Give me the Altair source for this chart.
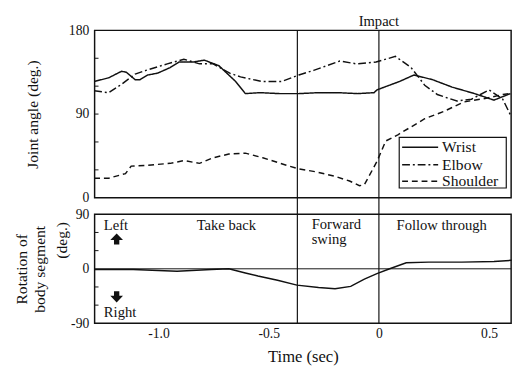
import altair as alt
import pandas as pd

# ---------------- data ----------------
joints = ["Wrist", "Elbow", "Shoulder"]

wrist_t = [-1.292, -1.226, -1.168, -1.146, -1.106, -1.084, -1.049, -1.004, -0.947, -0.907,
           -0.841, -0.792, -0.726, -0.650, -0.606, -0.540, -0.451, -0.363, -0.274, -0.186,
           -0.097, -0.022, -0.009, 0.093, 0.159, 0.243, 0.332, 0.434, 0.522, 0.597]
wrist_v = [125, 129, 136, 135, 127, 127, 132, 134, 140, 146,
           146, 148, 142, 125, 112, 113, 112, 112, 113, 113,
           112, 113, 116, 125, 132, 127, 119, 112, 105, 112]

elbow_t = [-1.292, -1.226, -1.168, -1.106, -1.057, -0.960, -0.885, -0.814, -0.752, -0.677,
           -0.628, -0.531, -0.442, -0.363, -0.296, -0.177, -0.102, -0.013, 0.075, 0.146,
           0.208, 0.265, 0.354, 0.420, 0.500, 0.562, 0.597]
elbow_v = [115, 113, 122, 133, 137, 144, 149, 144, 144, 134,
           130, 125, 125, 132, 137, 147, 144, 146, 152, 140,
           121, 111, 104, 106, 116, 106, 89]

shoulder_t = [-1.292, -1.226, -1.150, -1.124, -1.049, -0.947, -0.885, -0.814, -0.752, -0.681,
              -0.606, -0.527, -0.420, -0.363, -0.288, -0.199, -0.133, -0.088, -0.066, -0.009,
              0.031, 0.088, 0.208, 0.296, 0.385, 0.487, 0.562, 0.597]
shoulder_v = [21, 21, 26, 34, 35, 37, 40, 37, 43, 47,
              48, 43, 35, 31, 28, 23, 18, 13, 14, 39,
              61, 68, 85, 93, 103, 107, 111, 112]

rot_t = [-1.292, -1.115, -0.916, -0.761, -0.681, -0.606, -0.549, -0.460, -0.372, -0.274,
         -0.199, -0.128, -0.066, -0.009, 0.049, 0.124, 0.226, 0.376, 0.522, 0.602]
rot_v = [-1, -1, -4, -1, 0, -7, -12, -19, -27, -31,
         -33, -29, -17, -8, 0, 10, 11, 11, 12, 14]

phase_t = [-0.37, 0.0]

ang_tick_vals = [30, 60, 90, 120, 150]
rot_tick_vals = [-60, -30, 30, 60]

ann_labels = ["Left", "Right", "Take back", "Forward", "swing", "Follow through"]
ann_t = [-1.248, -1.248, -0.827, -0.305, -0.305, 0.080]
ann_v = [72, -72, 72, 74, 49, 72]

arrow_dir = ["up", "down"]
arrow_t = [-1.19, -1.19]
arrow_v = [48, -45]

# ---------------- styling ----------------
FONT = "Liberation Serif"
INK = "#111111"
W, H1, H2, GAP = 428, 172, 112, 17
dashes = [[1, 0], [8, 3, 2, 3], [6, 4]]
xscale = alt.Scale(domain=[-1.29, 0.60], nice=False, zero=False)

angle_df = pd.concat([
    pd.DataFrame({"t": wrist_t, "v": wrist_v, "joint": "Wrist"}),
    pd.DataFrame({"t": elbow_t, "v": elbow_v, "joint": "Elbow"}),
    pd.DataFrame({"t": shoulder_t, "v": shoulder_v, "joint": "Shoulder"}),
])
phase_df = pd.DataFrame({"t": phase_t})
one = pd.DataFrame({"a": [0]})

# ---------------- top panel ----------------
y_top = alt.Y("v:Q", scale=alt.Scale(domain=[0, 180], nice=False),
              axis=alt.Axis(values=[0, 90, 180], title="Joint angle (deg.)",
                            titlePadding=29, labelPadding=6, tickSize=0))
x_top = alt.X("t:Q", scale=xscale, axis=alt.Axis(labels=False, title=None, tickSize=0))

lines = alt.Chart(angle_df).mark_line(color=INK, strokeWidth=1.5).encode(
    x=x_top, y=y_top,
    strokeDash=alt.StrokeDash("joint:N", scale=alt.Scale(domain=joints, range=dashes), legend=None),
)
top_rules = alt.Chart(phase_df).mark_rule(color=INK, strokeWidth=1.2).encode(x="t:Q")
top_ticks = alt.Chart(pd.DataFrame({"v": ang_tick_vals})).mark_rule(color=INK, strokeWidth=1).encode(
    y="v:Q", x=alt.value(0), x2=alt.value(4))
impact = alt.Chart(pd.DataFrame({"t": [0.0], "lab": ["Impact"]})).mark_text(
    font=FONT, fontSize=15, color=INK, baseline="middle").encode(
    x="t:Q", y=alt.value(-10), text="lab:N")

legend_layers = [
    alt.Chart(one).mark_rect(fill="white", stroke=INK, strokeWidth=1.2).encode(
        x=alt.value(313), x2=alt.value(423), y=alt.value(110), y2=alt.value(162))
]
for name, dash, yy in zip(joints, dashes, [120, 138, 155]):
    legend_layers.append(alt.Chart(one).mark_rule(color=INK, strokeWidth=1.5, strokeDash=dash).encode(
        x=alt.value(316), x2=alt.value(353), y=alt.value(yy)))
    legend_layers.append(alt.Chart(one).mark_text(font=FONT, fontSize=16, color=INK, align="left",
                                                  baseline="middle").encode(
        x=alt.value(357), y=alt.value(yy), text=alt.value(name)))

top = alt.layer(top_rules, top_ticks, lines, impact, *legend_layers).properties(width=W, height=H1)

# ---------------- bottom panel ----------------
y_bot = alt.Y("v:Q", scale=alt.Scale(domain=[-90, 90], nice=False),
              axis=alt.Axis(values=[-90, 0, 90], title=["Rotation of", "body segment"],
                            titlePadding=24, labelPadding=6, tickSize=0,
                            labelExpr="datum.value < 0 ? '-90' : (datum.value == 0 ? '0' : '90')"))
x_bot = alt.X("t:Q", scale=xscale,
              axis=alt.Axis(values=[-1.0, -0.5, 0.0, 0.5], title="Time (sec)", tickSize=0,
                            labelPadding=4, titlePadding=8,
                            labelExpr="datum.value == 0 ? '0' : (datum.value == 0.5 ? '0.5' : (datum.value == -0.5 ? '-0.5' : '-1.0'))"))

rot = alt.Chart(pd.DataFrame({"t": rot_t, "v": rot_v})).mark_line(color=INK, strokeWidth=1.5).encode(
    x=x_bot, y=y_bot)
zero = alt.Chart(pd.DataFrame({"v": [0]})).mark_rule(color=INK, strokeWidth=1).encode(y="v:Q")
bot_rules = alt.Chart(phase_df).mark_rule(color=INK, strokeWidth=1.2).encode(
    x="t:Q", y=alt.value(-GAP), y2=alt.value(H2))
bot_ticks = alt.Chart(pd.DataFrame({"v": rot_tick_vals})).mark_rule(color=INK, strokeWidth=1).encode(
    y="v:Q", x=alt.value(0), x2=alt.value(4))
ann = alt.Chart(pd.DataFrame({"t": ann_t, "v": ann_v, "lab": ann_labels})).mark_text(
    font=FONT, fontSize=15, color=INK, align="left", baseline="middle").encode(
    x="t:Q", y="v:Q", text="lab:N")
up_path = "M0,-1L1,0.05L0.42,0.05L0.42,0.75L-0.42,0.75L-0.42,0.05L-1,0.05Z"
down_path = "M0,1L1,-0.05L0.42,-0.05L0.42,-0.75L-0.42,-0.75L-0.42,-0.05L-1,-0.05Z"
arrows = alt.Chart(pd.DataFrame({"t": arrow_t, "v": arrow_v, "dir": arrow_dir})).mark_point(
    filled=True, color=INK, opacity=1, size=170).encode(
    x="t:Q", y="v:Q",
    shape=alt.Shape("dir:N", scale=alt.Scale(domain=["up", "down"], range=[up_path, down_path]), legend=None))
deg = alt.Chart(pd.DataFrame({"v": [47], "lab": ["(deg.)"]})).mark_text(
    font=FONT, fontSize=16, color=INK, angle=270, baseline="middle").encode(
    x=alt.value(-33), y="v:Q", text="lab:N")

bottom = alt.layer(zero, bot_rules, bot_ticks, rot, ann, arrows, deg).properties(width=W, height=H2)

chart = alt.vconcat(top, bottom, spacing=GAP, bounds="flush").properties(
    padding={"left": 5, "top": 0, "right": 0, "bottom": 0}
).configure_view(stroke=INK, strokeWidth=1.5).configure_axis(
    labelFont=FONT, titleFont=FONT, labelFontSize=14, titleFontSize=16,
    titleFontWeight="normal", labelColor=INK, titleColor=INK,
    domain=False, grid=False, ticks=False
).configure_axisBottom(titleFontSize=17)

chart.save("out.html", embed_options={"renderer": "svg", "actions": False})
